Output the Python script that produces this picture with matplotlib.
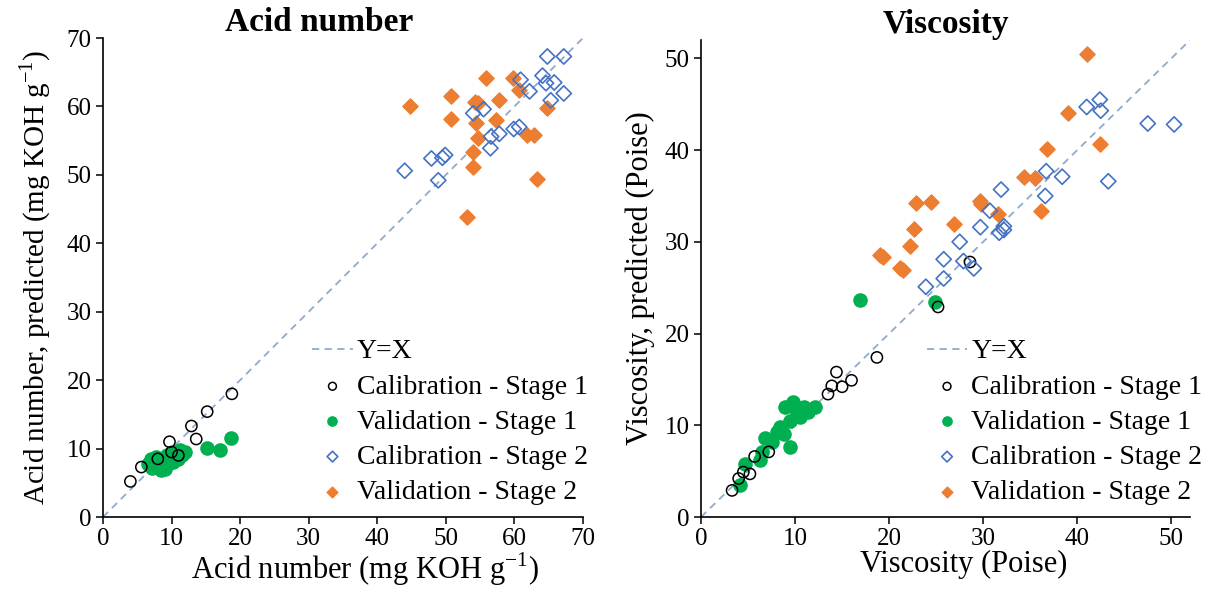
import matplotlib
matplotlib.use("Agg")
import matplotlib.pyplot as plt

plt.rcParams['font.family'] = ['Liberation Serif', 'DejaVu Serif']
plt.rcParams['mathtext.fontset'] = 'custom'
plt.rcParams['mathtext.rm'] = 'Liberation Serif'

# ── Acid number (mg KOH g-1) ───────────────────────────────────────────────
acid_cal1_x = [4.0, 5.6, 9.7, 12.9, 13.6, 15.2, 18.8, 10.0, 11.0, 8.0]
acid_cal1_y = [5.2, 7.3, 11.0, 13.3, 11.4, 15.4, 18.0, 9.5, 9.0, 8.5]

acid_val1_x = [6.5, 7.0, 7.2, 7.5, 7.8, 8.0, 8.3, 8.5, 8.7, 9.0, 9.0, 9.3, 9.5,
               9.8, 10.0, 10.2, 10.5, 10.8, 11.0, 11.3, 11.5, 12.0, 15.1, 17.1, 18.7]
acid_val1_y = [7.8, 8.5, 7.2, 8.0, 8.8, 7.5, 8.2, 6.8, 7.8, 8.5, 7.0, 9.0, 7.8,
               8.3, 9.2, 8.0, 8.8, 9.5, 8.5, 9.8, 9.0, 9.5, 10.1, 9.8, 11.6]

acid_cal2_x = [44.0, 47.9, 49.9, 49.5, 48.9, 54.0, 55.5, 56.6, 57.8, 56.5, 59.9,
               60.7, 60.9, 62.2, 64.1, 64.6, 64.8, 65.8, 65.3, 67.2, 67.2]
acid_cal2_y = [50.6, 52.4, 52.9, 52.5, 49.2, 59.0, 59.6, 55.6, 56.0, 53.9, 56.7,
               57.0, 63.9, 62.2, 64.5, 63.4, 67.3, 63.5, 60.9, 67.3, 61.9]

acid_val2_x = [44.8, 50.8, 50.8, 55.9, 54.2, 54.7, 54.4, 54.7, 54.0, 54.0, 53.1,
               57.8, 57.3, 59.8, 60.7, 61.9, 62.9, 63.3, 64.8]
acid_val2_y = [60.0, 61.5, 58.1, 64.1, 60.7, 60.5, 57.6, 55.4, 53.4, 51.2, 43.8,
               60.9, 58.0, 64.1, 62.4, 55.8, 55.8, 49.4, 59.8]

# ── Viscosity (Poise) ──────────────────────────────────────────────────────
visc_cal1_x = [3.3, 4.0, 4.5, 5.2, 5.7, 7.2, 13.5, 13.9, 14.4, 15.0, 16.0, 18.7, 25.2, 28.6]
visc_cal1_y = [2.9, 4.2, 4.9, 4.7, 6.6, 7.1, 13.4, 14.3, 15.8, 14.2, 14.9, 17.4, 22.9, 27.8]

visc_val1_x = [16.9, 24.9, 4.1, 4.7, 6.3, 6.5, 6.8, 7.5, 8.4, 8.8, 9.5, 8.9, 9.8,
               10.2, 10.9, 11.4, 12.1, 9.5, 10.5, 8.1]
visc_val1_y = [23.7, 23.4, 3.5, 5.8, 6.2, 7.1, 8.6, 8.2, 9.8, 9.1, 7.6, 12.0, 12.5,
               11.3, 12.0, 11.4, 12.0, 10.5, 10.9, 9.3]

visc_cal2_x = [23.9, 25.8, 25.8, 27.5, 27.9, 29.0, 29.7, 30.7, 31.9, 31.7, 32.2,
               32.2, 36.6, 36.7, 38.4, 43.3, 41.0, 42.4, 42.5, 47.5, 50.3]
visc_cal2_y = [25.1, 26.0, 28.1, 30.0, 27.9, 27.1, 31.6, 33.4, 35.7, 31.0, 31.3,
               31.7, 35.0, 37.7, 37.1, 36.6, 44.7, 45.5, 44.3, 42.9, 42.8]

visc_val2_x = [19.0, 19.4, 21.2, 21.5, 22.2, 22.6, 22.9, 24.4, 26.9, 29.7, 29.8,
               31.6, 34.3, 35.5, 36.2, 36.8, 39.0, 42.4, 41.0]
visc_val2_y = [28.6, 28.4, 27.1, 26.9, 29.5, 31.4, 34.2, 34.3, 31.9, 34.5, 34.1,
               33.0, 37.1, 37.0, 33.4, 40.1, 44.1, 40.7, 50.5]

LINE_C = '#8FAACB'
GREEN = '#00B050'
BLUE = '#4472C4'
ORANGE = '#ED7D31'


def draw_panel(ax, cal1, val1, cal2, val2, lim, ticks, title, xlabel, ylabel,
               ylabel_size, ylabel_pad, title_x, xlabel_x, legend_anchor):
    ax.plot([0, lim], [0, lim], linestyle='--', color=LINE_C, linewidth=1.3,
            dashes=(4, 3), label='Y=X', zorder=1)
    ax.scatter(*cal1, s=65, facecolors='none', edgecolors='black', linewidths=1.1,
               label='Calibration - Stage 1', zorder=3)
    ax.scatter(*val1, s=90, color=GREEN, edgecolors=GREEN, label='Validation - Stage 1', zorder=2)
    ax.scatter(*cal2, s=60, marker='D', facecolors='none', edgecolors=BLUE, linewidths=1.2,
               label='Calibration - Stage 2', zorder=3)
    ax.scatter(*val2, s=60, marker='D', color=ORANGE, label='Validation - Stage 2', zorder=2)

    ax.set_xlim(0, lim)
    ax.set_ylim(0, lim)
    ax.set_xticks(ticks)
    ax.set_yticks(ticks)
    for side in ('top', 'right'):
        ax.spines[side].set_visible(False)
    ax.spines['left'].set_linewidth(1.2)
    ax.spines['bottom'].set_linewidth(1.2)
    ax.tick_params(labelsize=18, direction='out', length=5, width=1.1, pad=3)
    ax.set_title(title, fontsize=24, fontweight='bold', pad=2, x=title_x)
    ax.set_xlabel(xlabel, fontsize=22, labelpad=0, x=xlabel_x)
    ax.set_ylabel(ylabel, fontsize=ylabel_size, labelpad=ylabel_pad)
    ax.legend(loc='lower right', bbox_to_anchor=legend_anchor, frameon=False,
              fontsize=20, handlelength=1.45, handletextpad=0.15, labelspacing=0.35,
              markerscale=0.7, borderaxespad=0.0, borderpad=0.0)


fig = plt.figure(figsize=(12.07, 5.94), dpi=100)
ax1 = fig.add_axes([0.0853, 0.1296, 0.3977, 0.8064])
ax2 = fig.add_axes([0.5808, 0.1296, 0.4052, 0.8030])

draw_panel(ax1, (acid_cal1_x, acid_cal1_y), (acid_val1_x, acid_val1_y),
           (acid_cal2_x, acid_cal2_y), (acid_val2_x, acid_val2_y),
           70, range(0, 71, 10), 'Acid number',
           'Acid number (mg KOH g$^{-1}$)', 'Acid number, predicted (mg KOH g$^{-1}$)',
           21, 10, 0.45, 0.545, (1.01, 0.025))
draw_panel(ax2, (visc_cal1_x, visc_cal1_y), (visc_val1_x, visc_val1_y),
           (visc_cal2_x, visc_cal2_y), (visc_val2_x, visc_val2_y),
           52, range(0, 51, 10), 'Viscosity',
           'Viscosity (Poise)', 'Viscosity, predicted (Poise)',
           22, 7, 0.5, 0.538, (1.025, 0.025))

fig.savefig('out.png', dpi=100)
